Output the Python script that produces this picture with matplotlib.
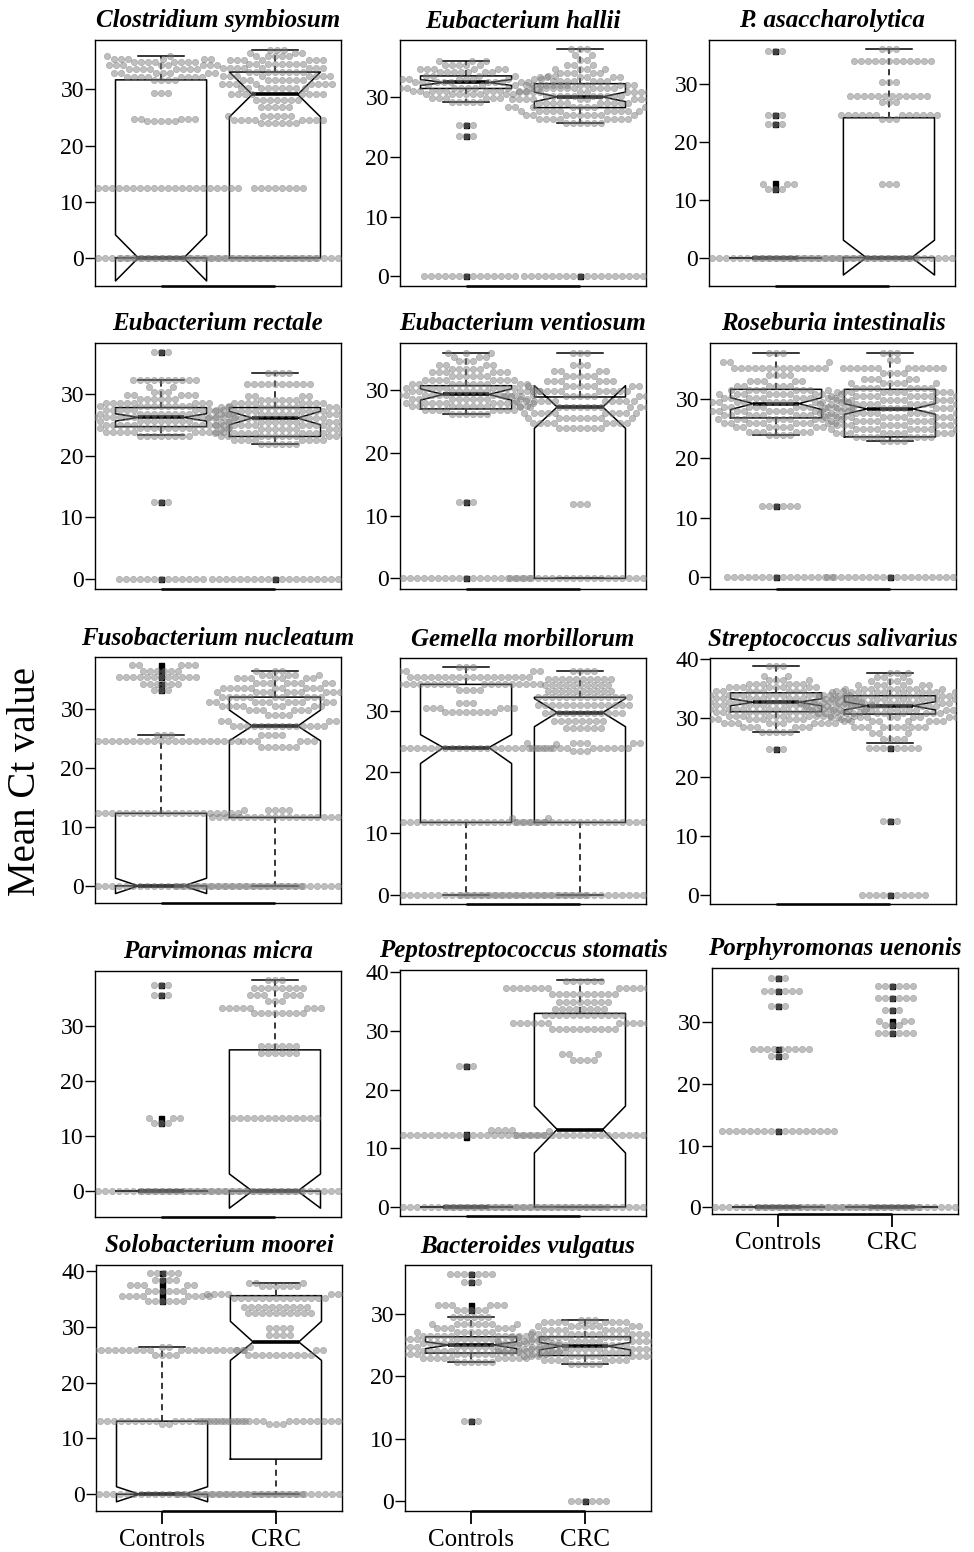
import numpy as np
import matplotlib
matplotlib.use("Agg")
import matplotlib.pyplot as plt

plt.rcParams['font.family'] = ['Liberation Serif', 'DejaVu Serif']

groups = ['Controls', 'CRC']
# box stats per group: [whislo, q1, med, q3, whishi, cilo, cihi]
# points per group: (Ct value, how many samples)

# Clostridium symbiosum
cs_ylim = (-5.0, 38.8)
cs_box = [[0, 0, 0, 31.7, 35.9, -4.1, 4.1], [0, 0, 29.1, 33.1, 37.1, 25.1, 33.1]]
cs_out = [[], []]
cs_ctrl = [(0, 45), (12.4, 22), (24.3, 5), (24.8, 5), (29.4, 3), (31.7, 4), (32.3, 8), (32.9, 7),
           (33.6, 8), (34.3, 8), (34.9, 8), (35.5, 6), (35.9, 2)]
cs_crc = [(0, 45), (12.5, 8), (24.0, 6), (24.5, 8), (25.2, 6), (26.9, 5), (28.1, 7), (29.1, 8), (30.2, 9),
          (31.0, 8), (31.7, 8), (32.4, 8), (33.1, 8), (33.8, 8), (34.5, 8), (35.2, 7), (35.9, 5),
          (36.5, 3), (37.1, 3)]

# Eubacterium hallii
eh_ylim = (-1.6, 39.5)
eh_box = [[29.2, 31.4, 32.4, 33.5, 36.0, 31.9, 32.9], [25.7, 28.2, 30.0, 32.2, 38.0, 29.2, 30.8]]
eh_out = [[25.3, 23.5, 0], [0]]
eh_ctrl = [(0, 14), (23.5, 3), (25.3, 3), (29.2, 5), (29.8, 6), (30.4, 8), (31.0, 10), (31.5, 10),
           (32.0, 10), (32.5, 10), (33.0, 10), (33.5, 8), (34.1, 7), (34.7, 6), (35.3, 5), (36.0, 3)]
eh_crc = [(0, 18), (25.7, 6), (26.3, 8), (27.0, 9), (27.7, 10), (28.3, 10), (29.0, 10), (29.6, 10),
          (30.2, 10), (30.8, 10), (31.4, 9), (32.0, 8), (32.6, 7), (33.3, 6), (34.0, 5), (34.7, 4),
          (35.4, 3), (36.2, 2), (37.0, 2), (38.0, 3)]

# P. asaccharolytica
pa_ylim = (-4.9, 37.5)
pa_box = [[0, 0, 0, 0, 0, 0, 0], [0, 0, 0, 24.1, 35.9, -3.0, 3.0]]
pa_out = [[35.6, 24.6, 23.0, 12.8, 11.8], []]
pa_ctrl = [(0, 40), (11.8, 3), (12.6, 3), (23.0, 3), (24.6, 3), (35.6, 3)]
pa_crc = [(0, 40), (12.6, 3), (23.9, 3), (24.5, 12), (26.8, 3), (27.9, 12), (30.3, 3), (33.8, 12), (35.9, 3)]

# Eubacterium rectale
er_ylim = (-1.7, 38.3)
er_box = [[23.4, 24.7, 26.2, 27.8, 32.3, 25.6, 26.8], [21.9, 23.1, 26.1, 27.8, 33.4, 25.0, 27.2]]
er_out = [[36.8, 12.5, 0], [0]]
er_ctrl = [(0, 13), (12.5, 3), (23.2, 8), (23.8, 10), (24.4, 10), (25.0, 10), (25.6, 10), (26.2, 12),
           (26.8, 10), (27.4, 10), (28.0, 10), (28.6, 8), (29.2, 6), (29.8, 5), (30.4, 3), (31.2, 2),
           (32.3, 10), (36.8, 3)]
er_crc = [(0, 19), (21.9, 6), (22.5, 8), (23.1, 10), (23.7, 10), (24.3, 10), (24.9, 10), (25.5, 10),
          (26.1, 12), (26.7, 10), (27.3, 10), (27.9, 10), (28.5, 8), (29.1, 6), (29.7, 4), (31.6, 10),
          (33.4, 4)]

# Eubacterium ventiosum
ev_ylim = (-1.7, 37.5)
ev_box = [[26.2, 27.0, 29.3, 30.7, 35.9, 28.4, 30.2], [0, 0, 27.3, 28.9, 35.9, 23.9, 30.7]]
ev_out = [[12.2, 0], []]
ev_ctrl = [(0, 19), (12.2, 3), (26.2, 6), (26.8, 8), (27.4, 10), (28.0, 10), (28.6, 10), (29.2, 12),
           (29.8, 12), (30.4, 10), (31.0, 10), (31.6, 8), (32.2, 6), (32.8, 6), (33.4, 5), (34.0, 4),
           (34.6, 3), (35.3, 3), (35.9, 3)]
ev_crc = [(0, 22), (11.8, 3), (23.9, 7), (24.7, 8), (25.5, 9), (26.4, 10), (27.3, 12), (28.2, 12),
          (29.0, 12), (29.8, 10), (30.6, 8), (31.4, 6), (32.2, 5), (33.0, 4), (34.0, 3), (35.9, 3)]

# Roseburia intestinalis
ri_ylim = (-2.0, 39.4)
ri_box = [[23.9, 26.8, 29.2, 31.6, 37.8, 28.2, 30.2], [22.9, 23.6, 28.3, 31.6, 37.8, 27.4, 29.2]]
ri_out = [[12.0, 0], [0]]
ri_ctrl = [(0, 16), (12.0, 6), (23.9, 4), (24.5, 6), (25.2, 8), (25.9, 10), (26.6, 10), (27.3, 10),
           (28.0, 12), (28.7, 12), (29.4, 12), (30.1, 10), (30.8, 10), (31.5, 8), (32.2, 6), (33.0, 5),
           (34.0, 4), (35.2, 14), (36.2, 3), (37.8, 3)]
ri_crc = [(0, 20), (22.9, 4), (23.5, 8), (24.2, 10), (24.9, 10), (25.6, 10), (26.3, 10), (27.0, 12),
          (27.7, 12), (28.4, 12), (29.1, 12), (29.8, 10), (30.5, 10), (31.2, 10), (31.9, 8), (32.6, 6),
          (33.4, 5), (34.3, 4), (35.2, 12), (36.5, 2), (37.8, 3)]

# Fusobacterium nucleatum
fn_ylim = (-2.9, 38.8)
fn_box = [[0, 0, 0, 12.3, 25.6, -1.3, 1.3], [0, 11.6, 27.1, 32.0, 36.4, 24.6, 29.8]]
fn_out = [[37.5, 36.5, 35.4, 34.3, 33.2], []]
fn_ctrl = [(0, 40), (12.3, 22), (12.8, 3), (24.5, 22), (25.6, 3), (33.2, 3), (34.3, 6), (35.4, 12),
           (36.5, 6), (37.5, 5)]
fn_crc = [(0, 30), (11.6, 20), (12.8, 4), (23.5, 6), (24.5, 6), (25.5, 4), (27.1, 14), (28.0, 4),
          (29.0, 4), (29.8, 6), (30.5, 8), (31.2, 10), (32.0, 10), (32.8, 10), (33.6, 10), (34.4, 8),
          (35.2, 7), (35.8, 5), (36.4, 3)]

# Gemella morbillorum
gm_ylim = (-1.5, 38.6)
gm_box = [[0, 11.8, 24.0, 34.3, 37.1, 21.4, 26.1], [0, 11.8, 29.7, 32.2, 36.4, 27.4, 32.0]]
gm_out = [[], []]
gm_ctrl = [(0, 35), (11.8, 22), (12.6, 3), (24.0, 24), (24.6, 3), (29.8, 8), (30.5, 6), (31.3, 3),
           (33.4, 4), (34.3, 18), (35.5, 18), (36.4, 6), (37.2, 3)]
gm_crc = [(0, 35), (11.8, 20), (12.6, 2), (23.5, 3), (24.0, 12), (24.8, 6), (27.2, 6), (28.3, 8),
          (29.7, 12), (31.0, 14), (32.2, 14), (33.2, 10), (34.2, 10), (35.2, 10), (36.4, 4)]

# Streptococcus salivarius
ss_ylim = (-1.5, 40.2)
ss_box = [[27.6, 31.1, 32.7, 34.3, 38.8, 32.1, 33.3], [25.8, 30.7, 32.1, 33.8, 37.7, 31.4, 32.8]]
ss_out = [[24.7], [25.0, 12.5, 0]]
ss_ctrl = [(24.7, 3), (27.6, 5), (28.5, 6), (29.2, 10), (29.8, 10), (30.4, 12), (31.0, 12), (31.6, 14),
           (32.2, 14), (32.8, 14), (33.4, 12), (34.0, 12), (34.6, 10), (35.2, 8), (35.8, 6), (36.4, 4),
           (37.2, 2), (38.8, 3)]
ss_crc = [(0, 10), (12.5, 3), (25.0, 8), (26.5, 4), (27.5, 3), (28.5, 10), (29.5, 8), (30.2, 10),
          (30.8, 12), (31.4, 12), (32.0, 14), (32.6, 14), (33.2, 12), (33.8, 12), (34.4, 10), (35.0, 8),
          (35.6, 6), (36.3, 4), (37.0, 3), (37.7, 3)]

# Parvimonas micra
pm_ylim = (-4.7, 39.9)
pm_box = [[0, 0, 0, 0, 0, 0, 0], [0, 0, 0, 25.6, 38.2, -3.1, 3.1]]
pm_out = [[37.3, 35.6, 13.2, 12.4], []]
pm_ctrl = [(0, 40), (12.4, 3), (13.2, 3), (35.6, 3), (37.3, 3)]
pm_crc = [(0, 40), (13.2, 13), (25.0, 6), (26.3, 6), (32.2, 8), (33.2, 8), (34.5, 3), (35.5, 6),
          (36.8, 8), (38.2, 3)]

# Peptostreptococcus stomatis
ps_ylim = (-1.55, 40.4)
ps_box = [[0, 0, 0, 0, 0, 0, 0], [0, 0, 13.2, 33.0, 38.7, 9.2, 17.2]]
ps_out = [[24.0, 12.5, 12.0], []]
ps_ctrl = [(0, 40), (12.3, 22), (12.9, 2), (24.0, 3)]
ps_crc = [(0, 40), (12.3, 20), (13.2, 8), (25.0, 4), (26.0, 3), (30.3, 10), (31.3, 12), (32.7, 12),
          (33.8, 8), (35.0, 8), (36.3, 10), (37.3, 14), (38.5, 6)]

# Porphyromonas uenonis
pu_ylim = (-1.1, 38.8)
pu_box = [[0, 0, 0, 0, 0, 0, 0], [0, 0, 0, 0, 0, 0, 0]]
pu_out = [[37.2, 35.0, 32.6, 25.7, 24.6, 12.4], [35.8, 34.0, 32.0, 30.2, 29.5, 28.3]]
pu_ctrl = [(0, 40), (12.4, 17), (24.6, 3), (25.6, 9), (32.6, 3), (35.0, 6), (37.2, 3)]
pu_crc = [(0, 40), (28.3, 6), (29.5, 3), (30.2, 3), (32.0, 3), (34.0, 6), (35.8, 6)]

# Solobacterium moorei
sm_ylim = (-3.0, 41.1)
sm_box = [[0, 0, 0, 13.1, 26.4, -1.35, 1.35], [0, 6.3, 27.3, 35.6, 37.8, 24.0, 31.0]]
sm_out = [[39.7, 38.5, 37.5, 36.5, 35.5, 34.6], []]
sm_ctrl = [(0, 40), (12.6, 2), (13.1, 22), (24.9, 4), (25.8, 20), (26.4, 4), (34.6, 6), (35.5, 8),
           (36.5, 6), (37.5, 5), (38.5, 4), (39.7, 5)]
sm_crc = [(0, 30), (12.6, 3), (13.1, 20), (25.0, 10), (25.8, 4), (28.5, 4), (29.8, 4), (32.5, 10),
          (33.6, 10), (35.2, 14), (35.9, 8), (37.3, 6), (37.8, 3)]

# Bacteroides vulgatus
bv_ylim = (-1.6, 37.8)
bv_box = [[22.3, 23.7, 25.0, 26.3, 29.4, 24.4, 25.5], [22.0, 23.3, 24.8, 26.3, 29.0, 24.2, 25.4]]
bv_out = [[36.4, 35.1, 31.4, 30.6, 12.8], [0]]
bv_ctrl = [(12.8, 3), (22.3, 6), (22.9, 10), (23.5, 12), (24.1, 14), (24.7, 14), (25.3, 14), (25.9, 12),
           (26.5, 10), (27.1, 8), (27.7, 6), (28.4, 8), (29.4, 6), (30.6, 5), (31.4, 6), (35.1, 3), (36.4, 7)]
bv_crc = [(0, 6), (22.0, 5), (22.6, 8), (23.2, 12), (23.8, 14), (24.4, 14), (25.0, 14), (25.6, 14),
          (26.2, 12), (26.8, 10), (27.4, 8), (28.0, 8), (28.6, 8), (29.0, 3)]

titles = ['Clostridium symbiosum', 'Eubacterium hallii', 'P. asaccharolytica',
          'Eubacterium rectale', 'Eubacterium ventiosum', 'Roseburia intestinalis',
          'Fusobacterium nucleatum', 'Gemella morbillorum', 'Streptococcus salivarius',
          'Parvimonas micra', 'Peptostreptococcus stomatis', 'Porphyromonas uenonis',
          'Solobacterium moorei', 'Bacteroides vulgatus']

panels = [
    (cs_ylim, cs_box, cs_out, cs_ctrl, cs_crc), (eh_ylim, eh_box, eh_out, eh_ctrl, eh_crc),
    (pa_ylim, pa_box, pa_out, pa_ctrl, pa_crc), (er_ylim, er_box, er_out, er_ctrl, er_crc),
    (ev_ylim, ev_box, ev_out, ev_ctrl, ev_crc), (ri_ylim, ri_box, ri_out, ri_ctrl, ri_crc),
    (fn_ylim, fn_box, fn_out, fn_ctrl, fn_crc), (gm_ylim, gm_box, gm_out, gm_ctrl, gm_crc),
    (ss_ylim, ss_box, ss_out, ss_ctrl, ss_crc), (pm_ylim, pm_box, pm_out, pm_ctrl, pm_crc),
    (ps_ylim, ps_box, ps_out, ps_ctrl, ps_crc), (pu_ylim, pu_box, pu_out, pu_ctrl, pu_crc),
    (sm_ylim, sm_box, sm_out, sm_ctrl, sm_crc), (bv_ylim, bv_box, bv_out, bv_ctrl, bv_crc),
]

# panel frames in pixels (left, top), all 246 x 246
W, H = 974, 1552
PW = 246
frames = [(95, 40), (400, 40), (709, 40),
          (95, 343), (400, 343), (710, 343),
          (95, 657), (400, 658), (710, 658),
          (95, 971), (400, 970), (712, 968),
          (96, 1265), (405, 1265)]
bottom_panels = {11, 12, 13}
XLIM = (0.42, 2.58)
PX_PER_X = PW / (XLIM[1] - XLIM[0])
DOT = 7.0  # swarm spacing in pixels


def swarm(counts, ppu):
    vals = np.sort(np.repeat([c[0] for c in counts], [c[1] for c in counts]).astype(float))
    ys = vals * ppu
    xs = np.zeros_like(ys)
    for i in range(len(ys)):
        dy = np.abs(ys[:i] - ys[i])
        near = dy < DOT
        if not near.any():
            continue
        nx, ndy = xs[:i][near], dy[near]
        off = np.sqrt(DOT ** 2 - ndy ** 2)
        cand = np.concatenate([[0.0], nx + off, nx - off])
        ok = np.all((cand[:, None] - nx[None, :]) ** 2 + ndy[None, :] ** 2 >= DOT ** 2 - 1e-6, axis=1)
        cand = cand[ok]
        xs[i] = cand[np.argmin(np.abs(cand))]
    return vals, xs


fig = plt.figure(figsize=(W / 100, H / 100), dpi=100)

for k, (title, (ylim, box, out, ctrl, crc)) in enumerate(zip(titles, panels)):
    left, top = frames[k]
    ax = fig.add_axes([left / W, 1 - (top + PW) / H, PW / W, PW / H])
    stats = []
    for g in range(2):
        wl, q1, med, q3, wh, clo, chi = box[g]
        stats.append(dict(whislo=wl, q1=q1, med=med, q3=q3, whishi=wh,
                          cilo=clo, cihi=chi, fliers=out[g], label=groups[g]))
    ax.bxp(stats, positions=[1, 2], widths=0.8, capwidths=0.4, shownotches=True,
           boxprops=dict(color='black', lw=1.1),
           whiskerprops=dict(color='black', lw=1.1, ls=(0, (4, 3))),
           capprops=dict(color='black', lw=1.1),
           medianprops=dict(color='black', lw=2.6, solid_capstyle='butt'),
           flierprops=dict(marker='s', markerfacecolor='black', markeredgecolor='black',
                           markersize=3.6), zorder=2)

    ppu = PW / (ylim[1] - ylim[0])
    for g, pts in enumerate([ctrl, crc]):
        vals, xs = swarm(pts, ppu)
        ax.scatter(g + 1 + xs / PX_PER_X, vals, s=21, color='0.5', alpha=0.5,
                   edgecolors='0.4', linewidths=0.4, zorder=3)

    ax.set_xlim(*XLIM)
    ax.set_ylim(*ylim)
    ax.set_yticks([t for t in (0, 10, 20, 30, 40) if ylim[0] <= t <= ylim[1]])
    ax.tick_params(axis='y', length=7, width=1.0, pad=1, labelsize=17)
    for s in ax.spines.values():
        s.set_linewidth(1.0)
    ax.plot([1, 2], [ylim[0], ylim[0]], color='black', lw=1.8, clip_on=False,
            solid_capstyle='butt', zorder=5)
    if k in bottom_panels:
        ax.set_xticks([1, 2])
        ax.set_xticklabels(groups)
        ax.tick_params(axis='x', length=9, width=1.3, pad=4, labelsize=18)
    else:
        ax.set_xticks([])
    ax.set_title(title, fontsize=18, fontweight='bold', fontstyle='italic', pad=9)

fig.text(26 / W, 1 - 782 / H, 'Mean Ct value', rotation=90, fontsize=28,
         ha='center', va='center')

fig.savefig('out.png', dpi=100)
